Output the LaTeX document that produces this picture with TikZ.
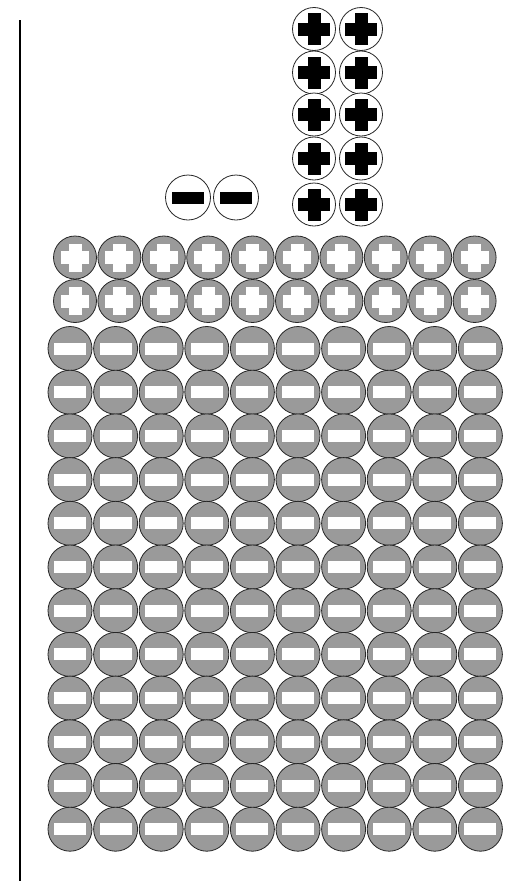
\documentclass[tikz,border=0pt]{standalone}
\definecolor{tokgray}{HTML}{9A9A9A}
\definecolor{edgegray}{HTML}{D2D2D2}
\tikzset{
  tok/.style={circle, draw=black!85, line width=0.8pt, inner sep=0pt, minimum size=#1},
  tok/.default=44pt,
  minusbar/.style={path picture={
      \fill[#1] ([shift={(-16pt,-6pt)}]path picture bounding box.center)
        rectangle ([shift={(16pt,6pt)}]path picture bounding box.center);}},
  plussign/.style 2 args={path picture={
      \fill[#1] ([shift={(-#2,-6.5pt)}]path picture bounding box.center)
        rectangle ([shift={(#2,6.5pt)}]path picture bounding box.center);
      \fill[#1] ([shift={(-6.5pt,-#2)}]path picture bounding box.center)
        rectangle ([shift={(6.5pt,#2)}]path picture bounding box.center);}},
  wminus/.style={tok=45pt, fill=white, minusbar=black},
  wplus/.style={tok=43pt, fill=white, plussign={black}{16pt}},
  gplus/.style={tok=43pt, fill=tokgray, plussign={white}{14pt}},
  gminus/.style={tok=44pt, fill=tokgray, minusbar=white},
  axisline/.style={line width=2pt}
}
\begin{document}
\begin{tikzpicture}[x=1pt,y=-1pt]
\useasboundingbox (0,0) rectangle (504,881);
\coordinate (axtop) at (20,20);
\coordinate (axbot) at (20,881);
\draw[axisline] (axtop) -- (axbot);
% top positive tokens
\foreach \y [count=\r] in {29,72.5,114.5,158.5,204.5}{
  \node[wplus] (tp\r a) at (314,\y) {};
  \node[wplus] (tp\r b) at (361,\y) {};
}
% top negative tokens
\node[wminus] (tm1) at (188,197.5) {};
\node[wminus] (tm2) at (236,197.5) {};
% gray positive rows
\foreach \y [count=\r] in {257.5,301}{
  \foreach \i in {0,...,9}{
    \node[gplus] (gp\r-\i) at ({75+44.4*\i},\y) {};
  }
}
% gray negative rows
\foreach \j in {0,...,11}{
  \foreach \i in {0,...,9}{
    \node[gminus] (gm\j-\i) at ({70+45.6*\i},{348.5+43.7*\j}) {};
  }
}
\end{tikzpicture}
\end{document}
